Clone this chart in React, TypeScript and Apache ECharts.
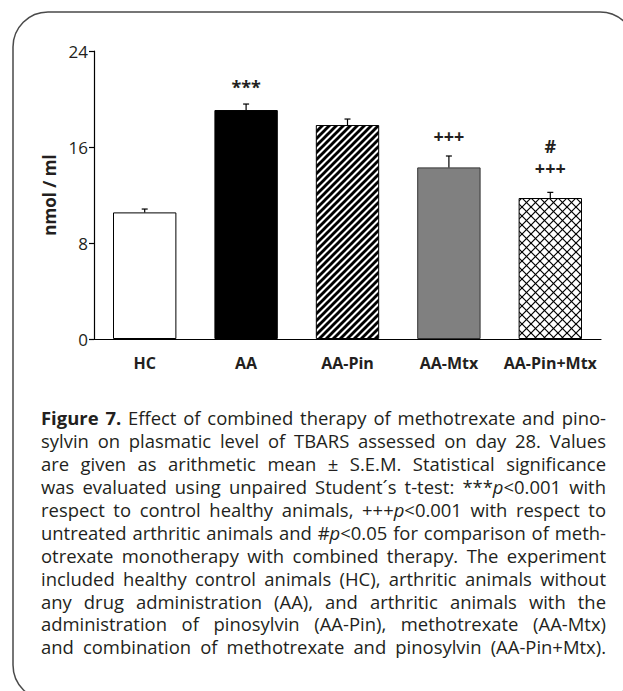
import React, { useEffect, useRef } from "react";
import * as echarts from "echarts";

// ---------- data ----------
const categories = ["HC", "AA", "AA-Pin", "AA-Mtx", "AA-Pin+Mtx"];
const means = [10.55, 19.08, 17.83, 14.3, 11.75];
const sems = [0.28, 0.5, 0.5, 0.95, 0.47];
const yMin = 0;
const yMax = 24;
const yInterval = 8;
const yAxisName = "nmol / ml";

// significance marks (category index, text, value position)
const annCategory = [1, 3, 4, 4];
const annText = ["***", "+++", "+++", "#"];
const annValue = [21.0, 16.9, 14.25, 16.1];

const captionLines = [
  "{b|Figure 7.} Effect of combined therapy of methotrexate and pino-",
  "sylvin on plasmatic level of TBARS assessed on day 28. Values",
  "are given as arithmetic mean ± S.E.M. Statistical significance",
  "was evaluated using unpaired Student´s t-test: ***{i|p}<0.001 with",
  "respect to control healthy animals, +++{i|p}<0.001 with respect to",
  "untreated arthritic animals and #{i|p}<0.05 for comparison of meth-",
  "otrexate monotherapy with combined therapy. The experiment",
  "included healthy control animals (HC), arthritic animals without",
  "any drug administration (AA), and arthritic animals with the",
  "administration of pinosylvin (AA-Pin), methotrexate (AA-Mtx)",
  "and combination of methotrexate and pinosylvin (AA-Pin+Mtx).",
];

// ---------- style ----------
const W = 623;
const H = 691;
const FONT = "Open Sans";
const TEXT = "#231f20";
const CAP_X = 41;
const CAP_W = 565;
const CAP_Y0 = 417.5;
const CAP_LH = 22.94;
const CAP_FS = 16.5;

type Run = { t: string; s: "n" | "b" | "i" };

function parseLine(line: string): Run[][] {
  const runs: Run[] = [];
  const re = /\{(b|i)\|([^}]*)\}/g;
  let last = 0;
  let m: RegExpExecArray | null;
  while ((m = re.exec(line))) {
    if (m.index > last) runs.push({ t: line.slice(last, m.index), s: "n" });
    runs.push({ t: m[2], s: m[1] as "b" | "i" });
    last = m.index + m[0].length;
  }
  if (last < line.length) runs.push({ t: line.slice(last), s: "n" });
  const words: Run[][] = [[]];
  runs.forEach((r) => {
    const parts = r.t.split(" ");
    parts.forEach((p, idx) => {
      if (idx > 0) words.push([]);
      if (p) words[words.length - 1].push({ t: p, s: r.s });
    });
  });
  return words.filter((w) => w.length > 0);
}

function buildCaption(): any[] {
  const canvas = document.createElement("canvas");
  const ctx = canvas.getContext("2d")!;
  const fontStr = (s: string, fs: number) =>
    `${s === "i" ? "italic " : ""}${s === "b" ? "700" : "400"} ${fs}px "${FONT}"`;
  const parsed = captionLines.map(parseLine);
  const measure = (words: Run[][], fs: number) => {
    const ws = words.map((w) =>
      w.reduce((a, r) => {
        ctx.font = fontStr(r.s, fs);
        return a + ctx.measureText(r.t).width;
      }, 0)
    );
    ctx.font = fontStr("n", fs);
    const sp = ctx.measureText(" ").width;
    const sum = ws.reduce((a, b) => a + b, 0);
    return { ws, sp, sum, natural: sum + sp * (words.length - 1) };
  };
  let fs = CAP_FS;
  const maxRatio = Math.max(...parsed.map((w) => measure(w, fs).natural / CAP_W));
  fs = (fs * 0.985) / maxRatio;
  const els: any[] = [];
  parsed.forEach((words, li) => {
    const { sp, sum } = measure(words, fs);
    let gap = words.length > 1 ? (CAP_W - sum) / (words.length - 1) : sp;
    if (gap > sp * 4) gap = sp;
    let x = CAP_X;
    const y = CAP_Y0 + li * CAP_LH;
    words.forEach((w) => {
      w.forEach((r) => {
        ctx.font = fontStr(r.s, fs);
        const rw = ctx.measureText(r.t).width;
        els.push({
          type: "text",
          x,
          y,
          silent: true,
          style: {
            text: r.t,
            fontFamily: FONT,
            fontSize: fs,
            fontWeight: r.s === "b" ? "bold" : "normal",
            fontStyle: r.s === "i" ? "italic" : "normal",
            fill: TEXT,
            align: "left",
            textAlign: "left",
            verticalAlign: "middle",
            textVerticalAlign: "middle",
          },
        });
        x += rw;
      });
      x += gap;
    });
  });
  return els;
}

function makePattern(kind: "stripe" | "cross") {
  const s = kind === "stripe" ? 7 : 9;
  const c = document.createElement("canvas");
  c.width = s;
  c.height = s;
  const g = c.getContext("2d")!;
  g.fillStyle = "#fff";
  g.fillRect(0, 0, s, s);
  g.strokeStyle = "#000";
  g.lineWidth = kind === "stripe" ? 2.9 : 1.2;
  const line = (x1: number, y1: number, x2: number, y2: number) => {
    g.beginPath();
    g.moveTo(x1, y1);
    g.lineTo(x2, y2);
    g.stroke();
  };
  // "/" diagonals
  line(-s, s, s, -s);
  line(0, s, s, 0);
  line(0, 2 * s, 2 * s, 0);
  if (kind === "cross") {
    line(-s, 0, s, 2 * s);
    line(0, 0, s, s);
    line(0, -s, 2 * s, s);
  }
  return { image: c.toDataURL(), repeat: "repeat", imageWidth: s, imageHeight: s };
}

export default function App() {
  const ref = useRef<HTMLDivElement>(null);
  useEffect(() => {
    if (!ref.current) return;
    const chart = echarts.init(ref.current, undefined, { renderer: "svg" });
    const stripe = makePattern("stripe");
    const cross = makePattern("cross");
    const barStyles: any[] = [
      { color: "#ffffff", borderColor: "#000", borderWidth: 1 },
      { color: "#000000", borderColor: "#000", borderWidth: 1 },
      { color: stripe, borderColor: "#000", borderWidth: 1 },
      { color: "#808080", borderColor: "#333", borderWidth: 1 },
      { color: cross, borderColor: "#000", borderWidth: 1 },
    ];
    const option: any = {
      animation: false,
      backgroundColor: "#ffffff",
      grid: { left: 94, right: 22, top: 51, bottom: 352, containLabel: false },
      xAxis: {
        type: "category",
        data: categories,
        axisLine: { show: true, lineStyle: { color: "#000", width: 1.2 } },
        axisTick: { show: false },
        axisLabel: {
          interval: 0,
          fontFamily: FONT,
          fontWeight: "bold",
          fontSize: 16,
          color: TEXT,
          margin: 16,
        },
      },
      yAxis: {
        type: "value",
        min: yMin,
        max: yMax,
        interval: yInterval,
        name: yAxisName,
        nameLocation: "middle",
        nameGap: 33,
        nameTextStyle: { fontFamily: FONT, fontWeight: "bold", fontSize: 17, color: TEXT },
        axisLine: { show: true, lineStyle: { color: "#000", width: 1.2 } },
        axisTick: { show: true, length: 5, inside: false, lineStyle: { color: "#000", width: 1.2 } },
        splitLine: { show: false },
        axisLabel: { fontFamily: FONT, fontSize: 17, color: TEXT, margin: 6 },
      },
      series: [
        {
          type: "bar",
          barWidth: "62.5%",
          data: means.map((v, i) => ({ value: v, itemStyle: barStyles[i] })),
          z: 2,
        },
        {
          type: "custom",
          z: 3,
          data: means.map((v, i) => [i, v, sems[i]]),
          encode: { x: 0, y: 1 },
          renderItem: (params: any, api: any) => {
            const i = api.value(0);
            const v = api.value(1);
            const e = api.value(2);
            const p0 = api.coord([i, v]);
            const p1 = api.coord([i, v + e]);
            return {
              type: "group",
              children: [
                {
                  type: "line",
                  shape: { x1: p0[0], y1: p0[1], x2: p1[0], y2: p1[1] },
                  style: { stroke: "#000", lineWidth: 1.2 },
                },
                {
                  type: "line",
                  shape: { x1: p1[0] - 3, y1: p1[1], x2: p1[0] + 3, y2: p1[1] },
                  style: { stroke: "#000", lineWidth: 1.2 },
                },
              ],
            };
          },
        },
        {
          type: "custom",
          z: 4,
          data: annCategory.map((c, k) => [c, annValue[k]]),
          encode: { x: 0, y: 1 },
          renderItem: (params: any, api: any) => {
            const p = api.coord([api.value(0), api.value(1)]);
            return {
              type: "text",
              x: p[0],
              y: p[1],
              style: {
                text: annText[params.dataIndex],
                fontFamily: FONT,
                fontWeight: "bold",
                fontSize: 18,
                fill: TEXT,
                align: "center",
                textAlign: "center",
                verticalAlign: "middle",
                textVerticalAlign: "middle",
              },
            };
          },
        },
      ],
      graphic: [
        {
          type: "rect",
          silent: true,
          shape: { x: 13, y: 12, width: 622, height: 688, r: 35 },
          style: { fill: "none", stroke: "#4a4a4a", lineWidth: 1.5 },
        },
        ...buildCaption(),
      ],
    };
    chart.setOption(option);
    return () => chart.dispose();
  }, []);
  return (
    <div
      ref={ref}
      style={{ position: "fixed", left: 0, top: 0, width: W, height: H, background: "#fff" }}
    />
  );
}
